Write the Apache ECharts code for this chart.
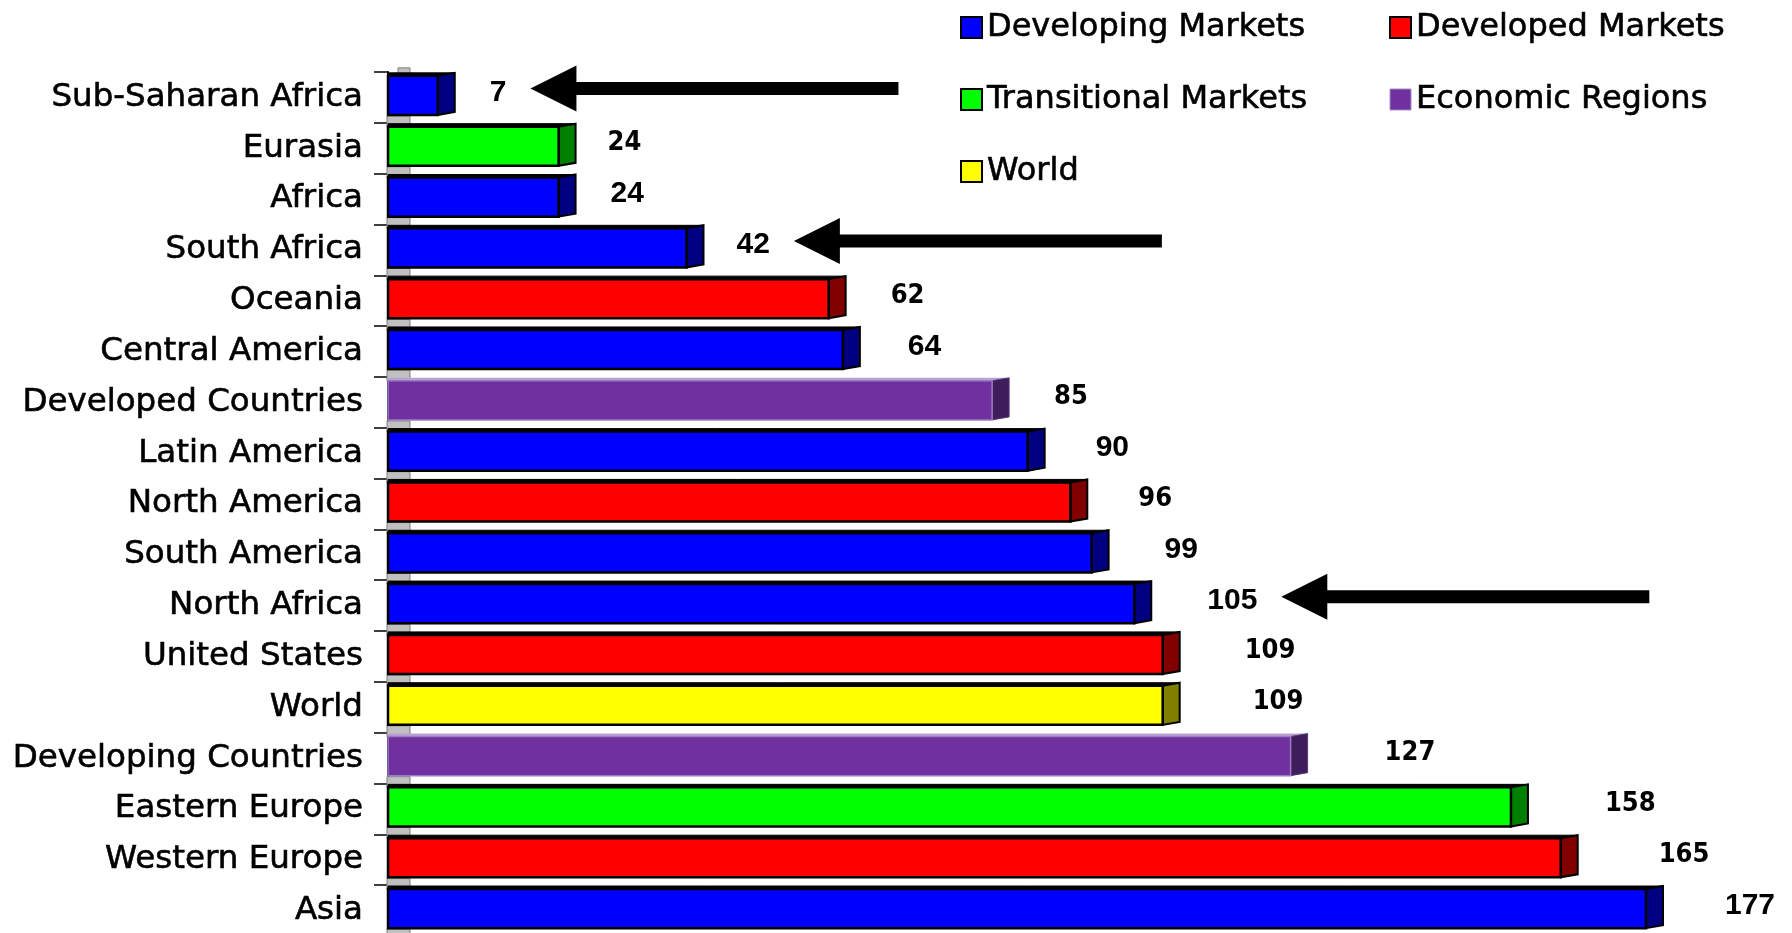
<!DOCTYPE html>
<html><head><meta charset="utf-8">
<script src="https://cdn.jsdelivr.net/npm/echarts@6/dist/echarts.min.js"></script>
<style>html,body{margin:0;padding:0;background:#fff}#c{width:1792px;height:933px}</style>
</head><body><div id="c"></div>
<script>
// ---- data ----
const categories = ['Sub-Saharan Africa','Eurasia','Africa','South Africa','Oceania','Central America','Developed Countries','Latin America','North America','South America','North Africa','United States','World','Developing Countries','Eastern Europe','Western Europe','Asia'];
const values = [7,24,24,42,62,64,85,90,96,99,105,109,109,127,158,165,177];
const groups = ['Developing Markets','Transitional Markets','Developing Markets','Developing Markets','Developed Markets','Developing Markets','Economic Regions','Developing Markets','Developed Markets','Developing Markets','Developing Markets','Developed Markets','World','Economic Regions','Transitional Markets','Developed Markets','Developing Markets'];
const groupNames = ['Developing Markets','Developed Markets','Transitional Markets','Economic Regions','World'];
const arrowed = ['Sub-Saharan Africa','South Africa','North Africa'];

// ---- styling (not data) ----
const palette = {
  'Developing Markets':  {front:'#0000FF', side:'#000080', top:'#000000', stroke:'#000000'},
  'Developed Markets':   {front:'#FF0000', side:'#800000', top:'#000000', stroke:'#000000'},
  'Transitional Markets':{front:'#00FF00', side:'#008000', top:'#000000', stroke:'#000000'},
  'Economic Regions':    {front:'#7030A0', side:'#3F1D5B', top:'#B8A2D4', stroke:'#9A7DC0'},
  'World':               {front:'#FFFF00', side:'#808000', top:'#000000', stroke:'#000000'}
};
const narrowLabel = [0,1,0,0,1,0,1,0,1,0,0,1,1,1,1,1,0];
const labelGap = [35,32,35,33,45,48,45,51,51,56,56,65,73,77,77,81,62];
const BOLD_FONT = 'bold 30px "Liberation Sans", Arial, sans-serif';
const NARROW_FONT = 'bold 27px "Liberation Sans Narrow", "DejaVu Sans Condensed", "Liberation Sans", Arial, sans-serif';
const TEXT_FONT = '"DejaVu Sans", sans-serif';
const DEPTH = 17, RISE = 3;

const mctx = document.createElement('canvas').getContext('2d');
function textW(t, font){ mctx.font = font; return mctx.measureText(t).width; }

function geom(api, v, ci){
  const p = api.coord([v, ci]);
  const p0 = api.coord([0, ci]);
  const band = api.size([0, 1])[1];
  const h = band * 0.77;
  const cy = p[1] - 2;
  return {x0: p0[0], x1: p[0], cy, top: cy - h/2, bot: cy + h/2, band};
}

function renderBar(params, api){
  const v = api.value(0), ci = api.value(1);
  const g = geom(api, v, ci);
  const c = palette[groups[ci]];
  const isPurple = groups[ci] === 'Economic Regions';
  const font = narrowLabel[ci] ? NARROW_FONT : BOLD_FONT;
  const lx = g.x1 + DEPTH + labelGap[ci];
  return {type:'group', children:[
    {type:'polygon', shape:{points:[[g.x0,g.top],[g.x0,g.top-RISE],[g.x1+DEPTH,g.top-RISE],[g.x1,g.top]]},
      style:{fill:c.top, stroke:isPurple? null : '#000', lineWidth:1}},
    {type:'polygon', shape:{points:[[g.x1,g.top],[g.x1+DEPTH,g.top-RISE],[g.x1+DEPTH,g.bot-RISE],[g.x1,g.bot]]},
      style:{fill:c.side, stroke:isPurple? '#5a3a78' : '#000', lineWidth:isPurple?1:2}},
    {type:'rect', shape:{x:g.x0, y:g.top, width:g.x1-g.x0, height:g.bot-g.top},
      style:{fill:c.front, stroke:c.stroke, lineWidth:isPurple?1.5:2.5}},
    {type:'text', x: lx, y: g.cy - 3,
      style:{text:String(values[ci]), font:font, fill:'#000', align:'left', verticalAlign:'middle'}}
  ]};
}

function renderFloor(params, api){
  const ci = api.value(1);
  const g = geom(api, api.value(0), ci);
  const kids = [{type:'rect', shape:{x:g.x0-1, y:g.bot+1, width:23, height:11},
      style:{fill:'#C0C0C0', stroke:'#7f7f7f', lineWidth:1}}];
  if (ci === 0) kids.push({type:'rect', shape:{x:g.x0+10, y:g.top-8, width:12, height:6},
      style:{fill:'#C0C0C0', stroke:'#7f7f7f', lineWidth:1}});
  return {type:'group', children:kids};
}

function renderArrow(params, api){
  const ci = api.value(1);
  const g = geom(api, api.value(0), ci);
  const font = narrowLabel[ci] ? NARROW_FONT : BOLD_FONT;
  const lx = g.x1 + DEPTH + labelGap[ci];
  const tip = lx + textW(String(values[ci]), font) + 24;
  const y = g.cy - 7;
  const HL = 46, HH = 23, SH = 6.5, LEN = 368;
  return {type:'polygon', shape:{points:[[tip,y],[tip+HL,y-HH],[tip+HL,y-SH],[tip+LEN,y-SH],[tip+LEN,y+SH],[tip+HL,y+SH],[tip+HL,y+HH]]},
    style:{fill:'#000'}};
}

const series = [{
  type:'custom', name:'floor', z:1, silent:true,
  encode:{x:0, y:1}, renderItem: renderFloor,
  data: values.map((v,i)=>[v,i])
}];
groupNames.forEach(gn=>{
  series.push({
    type:'custom', name: gn, z:2,
    itemStyle:{color: palette[gn].front},
    encode:{x:0, y:1}, renderItem: renderBar,
    data: values.map((v,i)=>[v,i]).filter(d=>groups[d[1]]===gn)
  });
});
series.push({
  type:'custom', name:'arrows', z:3, silent:true,
  encode:{x:0, y:1}, renderItem: renderArrow,
  data: arrowed.map(n=>{const i=categories.indexOf(n); return [values[i], i];})
});

function legendItem(n){
  const purple = n==='Economic Regions';
  return {name:n, icon:'rect', itemStyle:{color:palette[n].front, borderColor: purple?'#A68BC8':'#000', borderWidth: purple?1:2}};
}
const legendText = {fontFamily:TEXT_FONT, fontSize:32, lineHeight:36, color:'#000', textBorderColor:'#000', textBorderWidth:0.6};

const chart = echarts.init(document.getElementById('c'), null, {renderer:'canvas'});
chart.setOption({
  animation:false,
  backgroundColor:'#fff',
  grid:{left:388, top:72, width:1279.3, height:864, outerBoundsMode:'none', containLabel:false},
  xAxis:{type:'value', min:0, max:180, show:false},
  yAxis:{type:'category', inverse:true, data:categories, boundaryGap:true,
    axisLine:{show:true, lineStyle:{color:'#000', width:2}},
    axisTick:{show:true, length:14, lineStyle:{color:'#000', width:1.5}},
    axisLabel:{margin:25, fontFamily:TEXT_FONT, fontSize:32.5, color:'#000', textBorderColor:'#000', textBorderWidth:0.6},
    splitLine:{show:false}},
  legend:[
    {orient:'vertical', left:960, top:9.5, padding:0, itemWidth:21, itemHeight:21, itemGap:36, selectedMode:false,
      textStyle:legendText, data:['Developing Markets','Transitional Markets','World'].map(legendItem)},
    {orient:'vertical', left:1389, top:9.5, padding:0, itemWidth:21, itemHeight:21, itemGap:36, selectedMode:false,
      textStyle:legendText, data:['Developed Markets','Economic Regions'].map(legendItem)}
  ],
  series: series
});
</script>
</body></html>
